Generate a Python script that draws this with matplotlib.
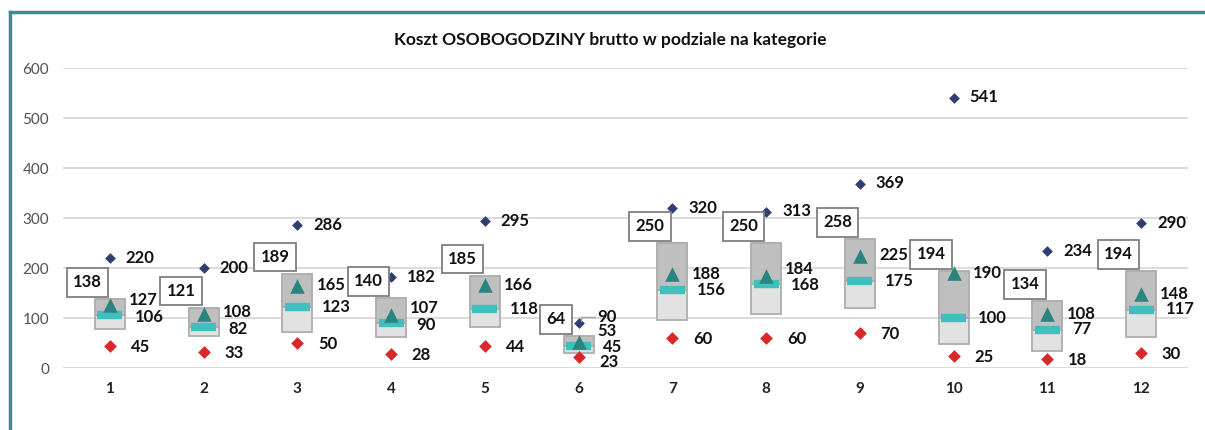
import numpy as np
import matplotlib
matplotlib.use("Agg")
import matplotlib.pyplot as plt
from matplotlib.lines import Line2D

plt.rcParams['font.family'] = ['Lato', 'DejaVu Sans']

# data
categories = ['1', '2', '3', '4', '5', '6', '7', '8', '9', '10', '11', '12']
max_vals = [220, 200, 286, 182, 295, 90, 320, 313, 369, 541, 234, 290]
q3_vals = [138, 121, 189, 140, 185, 64, 250, 250, 258, 194, 134, 194]
mean_vals = [127, 108, 165, 107, 166, 53, 188, 184, 225, 190, 108, 148]
median_vals = [106, 82, 123, 90, 118, 45, 156, 168, 175, 100, 77, 117]
q1_vals = [78, 64, 72, 63, 83, 31, 96, 108, 120, 48, 35, 63]
min_vals = [45, 33, 50, 28, 44, 23, 60, 60, 70, 25, 18, 30]

W, H = 1205, 430
fig = plt.figure(figsize=(W / 100, H / 100), dpi=100)
ax = fig.add_axes([63 / W, 62 / H, (1188 - 63) / W, 300 / H])

x = np.arange(len(categories))
bw = 0.32

# boxes: lower part light, upper part darker
ax.bar(x, np.array(median_vals) - np.array(q1_vals), bottom=q1_vals, width=bw,
       color='#e2e2e2', edgecolor='#bdbdbd', linewidth=1.2, zorder=2)
ax.bar(x, np.array(q3_vals) - np.array(median_vals), bottom=median_vals, width=bw,
       color='#bfbfbf', edgecolor='#a9a9a9', linewidth=1.2, zorder=2)
# outline whole box
ax.bar(x, np.array(q3_vals) - np.array(q1_vals), bottom=q1_vals, width=bw,
       fill=False, edgecolor='#b0b0b0', linewidth=1.2, zorder=3)

# median line
for xi, m in zip(x, median_vals):
    ax.add_line(Line2D([xi - bw * 0.42, xi + bw * 0.42], [m, m], color='#3fbfbd',
                       linewidth=6, solid_capstyle='butt', zorder=4))

ax.scatter(x, mean_vals, marker='^', s=110, color='#2a8580', zorder=5, linewidths=0)
ax.scatter(x, max_vals, marker='D', s=30, color='#2f3f73', zorder=5, linewidths=0)
ax.scatter(x, min_vals, marker='D', s=42, color='#d9282a', zorder=5, linewidths=0)

lab = dict(fontsize=12, fontweight='bold', color='#111111', zorder=6)
gap = 30

for i, xi in enumerate(x):
    mv, md = mean_vals[i], median_vals[i]
    # keep mean/median/min/max labels from sitting on top of each other
    mv_t = max(mv, md + gap)
    md_t = md - 3 if mv - md < gap else md
    mx_t = max(max_vals[i], mv_t + 28)
    mn_t = min(min_vals[i], md_t - 28)
    if mx_t != max_vals[i]:
        ax.annotate(str(max_vals[i]), (xi + 0.02, max_vals[i] + 4), xytext=(xi + 0.2, mx_t),
                    ha='left', va='center',
                    arrowprops=dict(arrowstyle='-', color='#a0a0a0', lw=1,
                                    connectionstyle='angle,angleA=0,angleB=90,rad=0',
                                    shrinkA=0, shrinkB=0),
                    **lab)
    else:
        ax.annotate(str(max_vals[i]), (xi + 0.17, mx_t), ha='left', va='center', **lab)
    ax.annotate(str(min_vals[i]), (xi + 0.22, mn_t - 2), ha='left', va='center', **lab)
    ax.annotate(str(mean_vals[i]), (xi + bw / 2, mv_t), xytext=(3, 0),
                textcoords='offset points', ha='left', va='center', **lab)
    ax.annotate(str(median_vals[i]), (xi + bw / 2, md_t), xytext=(7, 0),
                textcoords='offset points', ha='left', va='center', **lab)
    ax.annotate(str(q3_vals[i]), (xi - bw * 0.75, q3_vals[i]), xytext=(0, 12),
                textcoords='offset points', ha='center', va='center',
                bbox=dict(boxstyle='square,pad=0.38', fc='white', ec='#7f7f7f', lw=1.3),
                **lab)

ax.set_xlim(-0.5, len(categories) - 0.5)
ax.set_ylim(0, 600)
ax.set_yticks(range(0, 601, 100))
ax.set_xticks(x)
ax.set_xticklabels(categories, fontsize=11, fontweight='bold', color='#222222')
ax.tick_params(axis='y', labelsize=11, labelcolor='#505050', length=0, pad=10)
ax.tick_params(axis='x', length=0, pad=10)
ax.grid(axis='y', color='#d9d9d9', linewidth=1.3, zorder=0)
ax.set_axisbelow(True)
for s in ax.spines.values():
    s.set_visible(False)

fig.text(610 / W, 1 - 40 / H, 'Koszt OSOBOGODZINY brutto w podziale na kategorie',
         ha='center', va='center', fontsize=12.5, fontweight='bold', color='#111111')

# frame lines (top and left)
fig.add_artist(Line2D([10 / W, 1], [1 - 12 / H, 1 - 12 / H], color='#3a8f8a', linewidth=2.5))
fig.add_artist(Line2D([10 / W, 10 / W], [0, 1 - 12 / H], color='#3a8f8a', linewidth=2.5))

fig.savefig('out.png', dpi=100)
